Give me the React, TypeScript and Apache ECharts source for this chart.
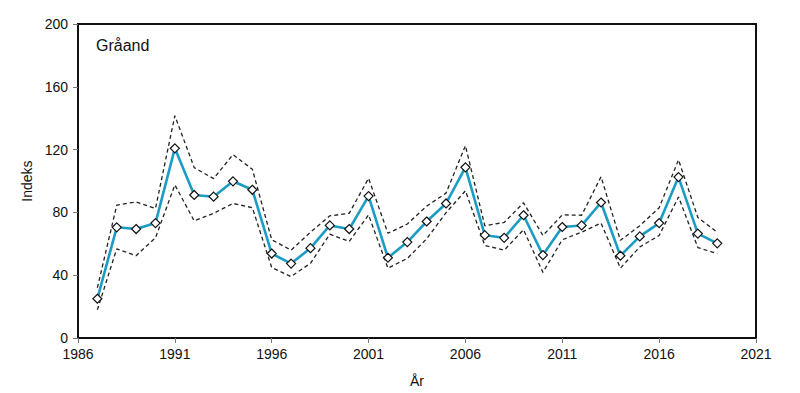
import React, { useEffect, useRef } from "react";
import * as echarts from "echarts";

const years = [1987, 1988, 1989, 1990, 1991, 1992, 1993, 1994, 1995, 1996, 1997, 1998, 1999, 2000, 2001, 2002, 2003, 2004, 2005, 2006, 2007, 2008, 2009, 2010, 2011, 2012, 2013, 2014, 2015, 2016, 2017, 2018, 2019];
const indexValues = [25, 70.5, 69.4, 73.2, 120.8, 91.1, 90.0, 99.8, 94.4, 53.8, 47.4, 57.2, 71.7, 69.4, 90.4, 51.1, 61.1, 74.2, 85.7, 108.7, 65.5, 63.8, 78.2, 52.8, 70.7, 71.7, 86.3, 52.4, 64.7, 73.2, 102.5, 66.5, 60.3];
const upperValues = [32, 84.6, 86.7, 82.5, 141.6, 108.5, 101.5, 116.8, 107.5, 62.6, 55.9, 67.4, 77.8, 79.4, 101.7, 66.7, 72.6, 84.0, 92.3, 122.5, 71.5, 73.6, 86.1, 65.3, 78.4, 78.2, 102.7, 62.2, 71.5, 82.9, 113.5, 76.7, 67.4];
const lowerValues = [18, 56.8, 52.4, 63.8, 97.5, 74.6, 79.4, 85.7, 83.0, 44.9, 39.1, 47.6, 66.1, 61.5, 78.4, 44.5, 50.7, 63.2, 79.8, 93.8, 59.0, 55.9, 69.0, 41.8, 62.6, 67.4, 73.2, 44.5, 58.0, 65.3, 89.8, 57.6, 53.8];

const title = "Gråand";
const xName = "År";
const yName = "Indeks";

const FONT = "Liberation Sans, Arial, sans-serif";

export default function App() {
  const ref = useRef<HTMLDivElement>(null);
  useEffect(() => {
    if (!ref.current) return;
    const chart = echarts.init(ref.current, null, { renderer: "svg" });
    const pair = (arr: number[]) => years.map((y, i) => [y, arr[i]]);
    const dashed = (name: string, arr: number[]) => ({
      name,
      type: "line",
      data: pair(arr),
      symbol: "none",
      lineStyle: { color: "#222", width: 1.3, type: [4, 3] },
      z: 2,
    });
    chart.setOption({
      animation: false,
      backgroundColor: "#fff",
      textStyle: { fontFamily: FONT },
      grid: {
        left: 78,
        right: 44,
        top: 24,
        bottom: 49,
        show: true,
        borderColor: "#111",
        borderWidth: 2,
        backgroundColor: "transparent",
      },
      graphic: [
        {
          type: "text",
          left: 96,
          top: 37,
          style: { text: title, font: `16px ${FONT}`, fill: "#111" },
        },
      ],
      xAxis: {
        type: "value",
        min: 1986,
        max: 2021,
        interval: 5,
        name: xName,
        nameLocation: "middle",
        nameGap: 36,
        nameTextStyle: { fontSize: 14, color: "#111", fontFamily: FONT },
        axisLine: { lineStyle: { color: "#111", width: 2 } },
        axisTick: { show: true, length: 5, lineStyle: { color: "#777" } },
        axisLabel: {
          fontSize: 14,
          color: "#111",
          margin: 9,
          fontFamily: FONT,
          formatter: (v: number) => String(v),
        },
        splitLine: { show: false },
      },
      yAxis: {
        type: "value",
        min: 0,
        max: 200,
        interval: 40,
        name: yName,
        nameLocation: "middle",
        nameGap: 43,
        nameTextStyle: { fontSize: 14, color: "#111", fontFamily: FONT },
        axisLine: { show: true, lineStyle: { color: "#111", width: 2 } },
        axisTick: { show: true, length: 5, lineStyle: { color: "#777" } },
        axisLabel: { fontSize: 14, color: "#111", margin: 10, fontFamily: FONT },
        splitLine: { show: false },
      },
      series: [
        dashed("Øvre", upperValues),
        dashed("Nedre", lowerValues),
        {
          name: "Indeks",
          type: "line",
          data: pair(indexValues),
          symbol: "diamond",
          symbolSize: 9,
          itemStyle: { color: "#fff", borderColor: "#111", borderWidth: 1.2 },
          lineStyle: { color: "#1b9cc4", width: 2.6 },
          z: 3,
        },
      ],
    });
    return () => chart.dispose();
  }, []);
  return (
    <div
      ref={ref}
      style={{ position: "fixed", left: 0, top: 0, width: 800, height: 393, background: "#fff" }}
    />
  );
}
